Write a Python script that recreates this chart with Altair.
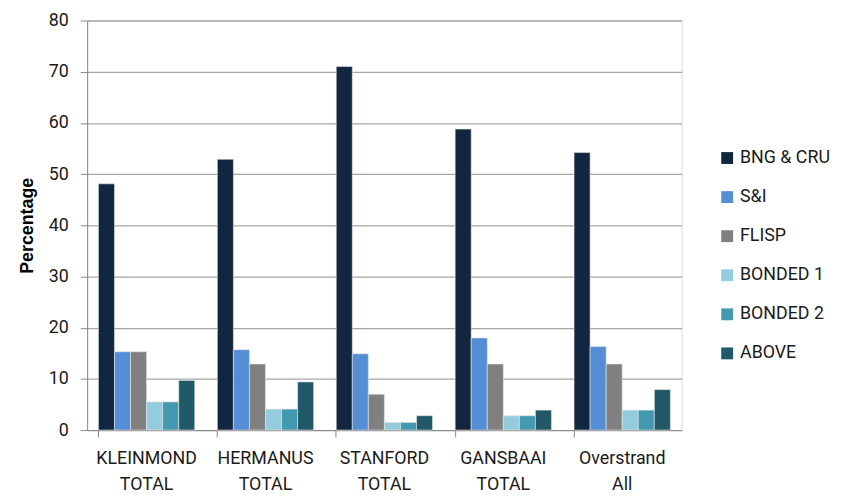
import altair as alt
import pandas as pd

categories = ["KLEINMOND TOTAL", "HERMANUS TOTAL", "STANFORD TOTAL", "GANSBAAI TOTAL", "Overstrand All"]
series = ["BNG & CRU", "S&I", "FLISP", "BONDED 1", "BONDED 2", "ABOVE"]
values = {
    "BNG & CRU": [48.1, 52.9, 71.0, 58.8, 54.2],
    "S&I":       [15.3, 15.7, 14.9, 18.0, 16.3],
    "FLISP":     [15.3, 12.9, 7.0, 12.9, 12.9],
    "BONDED 1":  [5.5, 4.1, 1.5, 2.8, 3.9],
    "BONDED 2":  [5.5, 4.1, 1.5, 2.8, 3.9],
    "ABOVE":     [9.7, 9.4, 2.8, 3.9, 7.9],
}
colors = ["#13263F", "#558ED5", "#808080", "#93CDDD", "#4399B0", "#215968"]

rows = []
for s in series:
    for c, v in zip(categories, values[s]):
        rows.append({"Area": c, "Type": s, "Percentage": v})
df = pd.DataFrame(rows)

font = "Roboto"
txt = "#1a1a1a"

chart = alt.Chart(df).mark_bar(stroke="#e8e8e8", strokeWidth=0.6).encode(
    x=alt.X("Area:N", sort=categories, title=None,
            scale=alt.Scale(paddingInner=0.19, paddingOuter=0.095),
            axis=alt.Axis(labelAngle=0, labelExpr="split(datum.label, ' ')",
                          labelFontSize=18, labelColor=txt, labelFont=font,
                          labelPadding=13, labelLineHeight=26,
                          bandPosition=0, tickSize=7, tickColor="#888",
                          domainColor="#888", grid=False)),
    xOffset=alt.XOffset("Type:N", sort=series),
    y=alt.Y("Percentage:Q", title="Percentage",
            scale=alt.Scale(domain=[0, 80]),
            axis=alt.Axis(values=list(range(0, 81, 10)), labelFontSize=18,
                          labelColor=txt, labelFont=font,
                          titleFont="Liberation Sans", titleFontSize=18, titleFontWeight="bold",
                          titleColor="#000", titlePadding=12,
                          tickSize=7, tickColor="#888", domainColor="#888",
                          gridColor="#a6a6a6", gridWidth=1.3, labelPadding=12)),
    color=alt.Color("Type:N", sort=series,
                    scale=alt.Scale(domain=series, range=colors),
                    legend=alt.Legend(title=None, symbolType="square", symbolSize=144,
                                      symbolStrokeWidth=0,
                                      labelFontSize=18, labelFont=font, labelColor=txt,
                                      rowPadding=21.5, orient="none",
                                      legendX=638, legendY=130,
                                      padding=0)),
).properties(width=601, height=414,
             padding={"left": 10, "top": 1, "right": 5, "bottom": 0}
).configure_view(stroke=None).configure(background="white")

chart.save("out.html", embed_options={"renderer": "svg", "actions": False})
